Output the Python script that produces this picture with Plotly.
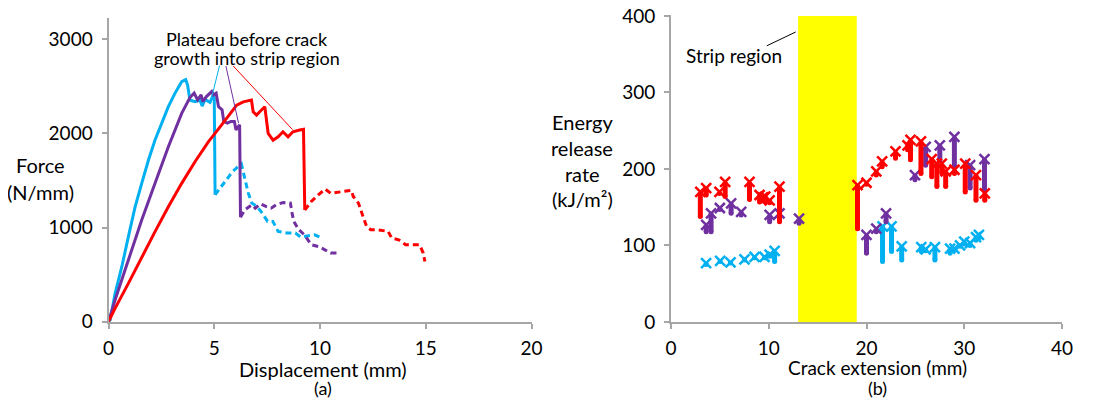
import plotly.graph_objects as go

# The page body keeps its default 8px margin, so the figure is offset by 8px.
OFF = 8
W, H = 1095 - 2 * OFF, 408 - 2 * OFF
FONT = "Lato, 'Open Sans', sans-serif"
FS = 19

# ---------------- Panel (a): force vs displacement ----------------
cyan_solid_x = [0, 0.08, 0.31, 0.63, 0.94, 1.26, 1.57, 1.89, 2.2, 2.52, 2.83, 3.14, 3.46, 3.65, 3.74, 3.85, 4.09, 4.32, 4.43, 4.56, 4.8, 4.95, 5.0, 5.04]
cyan_solid_y = [0, 18, 300, 584, 903, 1221, 1469, 1717, 1929, 2106, 2283, 2425, 2549, 2570, 2513, 2354, 2336, 2354, 2290, 2360, 2330, 2407, 2372, 1348]
cyan_dash_x = [5.04, 5.45, 5.87, 6.28, 6.45, 6.61, 6.78, 7.02, 7.27, 7.52, 7.77, 8.02, 8.43, 8.84, 9.09, 9.42, 9.75, 10.08]
cyan_dash_y = [1348, 1472, 1595, 1677, 1507, 1365, 1259, 1224, 1153, 1065, 1065, 959, 941, 941, 898, 913, 923, 888]

purple_solid_x = [0, 0.31, 0.94, 1.57, 2.2, 2.83, 3.46, 3.85, 4.05, 4.21, 4.38, 4.46, 4.63, 4.88, 4.96, 5.09, 5.2, 5.37, 5.45, 5.62, 5.79, 5.95, 6.03, 6.2, 6.24]
purple_solid_y = [0, 230, 655, 1080, 1469, 1858, 2212, 2380, 2427, 2356, 2409, 2338, 2391, 2444, 2409, 2427, 2285, 2250, 2126, 2108, 2126, 2126, 2037, 2090, 1110]
purple_dash_x = [6.24, 6.45, 6.78, 6.94, 7.19, 7.44, 7.69, 7.93, 8.26, 8.6, 8.68, 8.76, 9.0, 9.26, 9.59, 9.92, 10.17, 10.5, 10.9]
purple_dash_y = [1110, 1189, 1242, 1206, 1252, 1224, 1206, 1242, 1266, 1259, 1153, 1065, 976, 923, 817, 799, 771, 729, 729]

red_solid_x = [0, 0.31, 0.94, 1.57, 2.2, 2.83, 3.46, 4.09, 4.72, 5.35, 6.06, 6.37, 6.76, 6.84, 7.0, 7.15, 7.39, 7.55, 7.78, 8.02, 8.25, 8.49, 8.72, 9.04, 9.22, 9.28]
red_solid_y = [0, 142, 407, 690, 956, 1221, 1469, 1699, 1910, 2090, 2300, 2335, 2353, 2229, 2194, 2229, 2282, 1999, 1928, 1964, 2017, 1964, 2017, 2035, 2042, 1186]
red_dash_x = [9.28, 9.59, 9.92, 10.25, 10.5, 10.83, 11.16, 11.49, 11.57, 11.82, 11.98, 12.2, 12.4, 12.73, 13.22, 13.39, 13.72, 14.05, 14.46, 14.71, 14.88, 14.96]
red_dash_y = [1186, 1277, 1348, 1408, 1365, 1372, 1383, 1394, 1330, 1259, 1153, 1012, 976, 976, 959, 888, 870, 817, 817, 817, 729, 640]

# annotation pointer lines (start at label, end on curve)
ptr_x0 = [5.25, 5.55, 5.9]
ptr_y0 = [2720, 2715, 2715]
ptr_x1 = [4.9, 6.15, 8.7]
ptr_y1 = [2400, 2108, 2040]

# ---------------- Panel (b): energy release rate vs crack extension ----------------
red_a   = [3.0, 3.6, 4.96, 5.54, 8.03, 9.06, 9.4, 9.64, 10.09, 11.1, 19.08, 20.0, 21.0, 21.6, 22.97, 24.2, 24.5, 25.57, 26.67, 27.2, 27.7, 28.1, 29.0, 30.1, 31.2, 32.1]
red_top = [170, 175, 170, 183, 183, 166, 163, 164, 159, 177, 179, 182, 197, 210, 223, 231, 238, 236, 213, 207, 207, 197, 199, 207, 192, 168]
red_bot = [138, 166, 168, 164, 160, 157, 158, 157, 156, 131, 122, 180, 192, 203, 214, 225, 212, 194, 190, 177, 195, 177, 194, 170, 159, 159]

purple_a   = [3.6, 4.1, 5.0, 6.15, 7.18, 10.09, 11.1, 13.1, 20.0, 21.0, 22.0, 24.96, 26.05, 27.5, 28.99, 30.6, 32.07]
purple_top = [127, 142, 149, 155, 144, 140, 142, 135, 114, 122, 142, 192, 229, 231, 242, 205, 213]
purple_bot = [118, 118, 147, 142, 140, 131, 134, 129, 90, 118, 131, 186, 205, 210, 203, 175, 173]

cyan_a   = [3.59, 5.03, 6.09, 7.52, 8.55, 9.57, 10.09, 10.6, 21.64, 22.56, 23.6, 25.6, 26.05, 27.0, 28.55, 29.0, 29.57, 30.0, 30.6, 31.2, 31.5]
cyan_top = [77, 80, 78, 82, 85, 85, 88, 93, 125, 125, 99, 98, 95, 98, 96, 96, 100, 105, 103, 111, 114]
cyan_bot = [75, 79, 77, 81, 84, 84, 86, 79, 79, 92, 81, 92, 93, 81, 90, 94, 99, 102, 100, 107, 110]

strip_a = [13, 19]

CYAN, PURPLE, RED = "#00B0F0", "#7030A0", "#FF0000"

fig = go.Figure()

for xs, ys, col, dash in [
    (cyan_solid_x, cyan_solid_y, CYAN, "solid"),
    (cyan_dash_x, cyan_dash_y, CYAN, "6px,4px"),
    (purple_solid_x, purple_solid_y, PURPLE, "solid"),
    (purple_dash_x, purple_dash_y, PURPLE, "6px,4px"),
    (red_solid_x, red_solid_y, RED, "solid"),
    (red_dash_x, red_dash_y, RED, "6px,4px"),
]:
    fig.add_trace(go.Scatter(x=xs, y=ys, mode="lines", xaxis="x", yaxis="y",
                             line=dict(color=col, width=3, dash=dash), showlegend=False,
                             hoverinfo="skip"))

for i, col in enumerate([CYAN, PURPLE, RED]):
    fig.add_trace(go.Scatter(x=[ptr_x0[i], ptr_x1[i]], y=[ptr_y0[i], ptr_y1[i]], mode="lines",
                             xaxis="x", yaxis="y", line=dict(color=col, width=1),
                             showlegend=False, hoverinfo="skip"))


def stems(a, top, bot):
    xs, ys = [], []
    for ai, t, b in zip(a, top, bot):
        xs += [ai, ai, None]
        ys += [t, b, None]
    return xs, ys


for a, top, bot, col in [(cyan_a, cyan_top, cyan_bot, CYAN),
                         (purple_a, purple_top, purple_bot, PURPLE),
                         (red_a, red_top, red_bot, RED)]:
    sx, sy = stems(a, top, bot)
    fig.add_trace(go.Scatter(x=sx, y=sy, mode="lines", xaxis="x2", yaxis="y2",
                             line=dict(color=col, width=5), showlegend=False, hoverinfo="skip"))
    fig.add_trace(go.Scatter(x=a, y=bot, mode="markers", xaxis="x2", yaxis="y2",
                             marker=dict(symbol="circle", size=5, color=col),
                             showlegend=False, hoverinfo="skip"))
    fig.add_trace(go.Scatter(x=a, y=top, mode="markers", xaxis="x2", yaxis="y2",
                             marker=dict(symbol="x-thin", size=10, color=col,
                                         line=dict(color=col, width=2.5)),
                             showlegend=False, hoverinfo="skip"))

axis_common = dict(showgrid=False, zeroline=False, showline=True, linecolor="#A6A6A6",
                   linewidth=2, ticks="outside", tickcolor="#A6A6A6", ticklen=5, tickwidth=2,
                   automargin=False, ticklabeloverflow="allow",
                   tickfont=dict(family=FONT, size=FS, color="black"))


def px(x):
    return (x - OFF) / W


def py(y):
    return 1 - (y - OFF) / H


fig.update_layout(
    template="none",
    width=W, height=H, margin=dict(l=0, r=0, t=0, b=0, pad=0), autosize=False,
    paper_bgcolor="white", plot_bgcolor="rgba(0,0,0,0)",
    font=dict(family=FONT, size=FS, color="black"),
    xaxis=dict(axis_common, domain=[px(108.5), px(531.5)], range=[0, 20], dtick=5, anchor="y",
               ticklabelstandoff=3),
    yaxis=dict(axis_common, domain=[py(321.7), py(18)], range=[0, 3225],
               tickvals=[0, 1000, 2000, 3000], anchor="x", ticklabelstandoff=5),
    xaxis2=dict(axis_common, domain=[px(671), px(1062)], range=[0, 40], dtick=10, anchor="y2",
                ticklabelstandoff=3),
    yaxis2=dict(axis_common, domain=[py(322), py(15.2)], range=[0, 401],
                tickvals=[0, 100, 200, 300, 400], anchor="x2", ticklabelstandoff=5),
)

fig.add_shape(type="rect", xref="x2", yref="y2", x0=strip_a[0], x1=strip_a[1], y0=-2, y1=400,
              fillcolor="#FFFF00", line=dict(width=0), layer="below")

# Strip region label and pointer
fig.add_shape(type="line", xref="x2", yref="y2", x0=9.8, y0=361, x1=12.75, y1=379,
              line=dict(color="black", width=1))


def label(t, x, y, size=FS):
    fig.add_annotation(x=px(x), y=py(y), xref="paper", yref="paper", text=t,
                       xanchor="center", yanchor="middle", showarrow=False,
                       font=dict(size=size))


label("Strip region", 734, 55)
label("Plateau before crack", 247, 39, 18)
label("growth into strip region", 247, 58, 18)

titles = [
    ("Force", 40, 165, 20), ("(N/mm)", 40, 192, 20),
    ("Displacement (mm)", 323, 369, 20), ("(a)", 323, 388, 18),
    ("Energy", 582, 122, 20), ("release", 582, 148, 20), ("rate", 582, 174, 20),
    ("(kJ/m²)", 582, 199, 20),
    ("Crack extension (mm)", 877, 367, 19), ("(b)", 877, 388, 18),
]
for t, x, y, s in titles:
    label(t, x, y, s)

fig.write_html("out.html")
